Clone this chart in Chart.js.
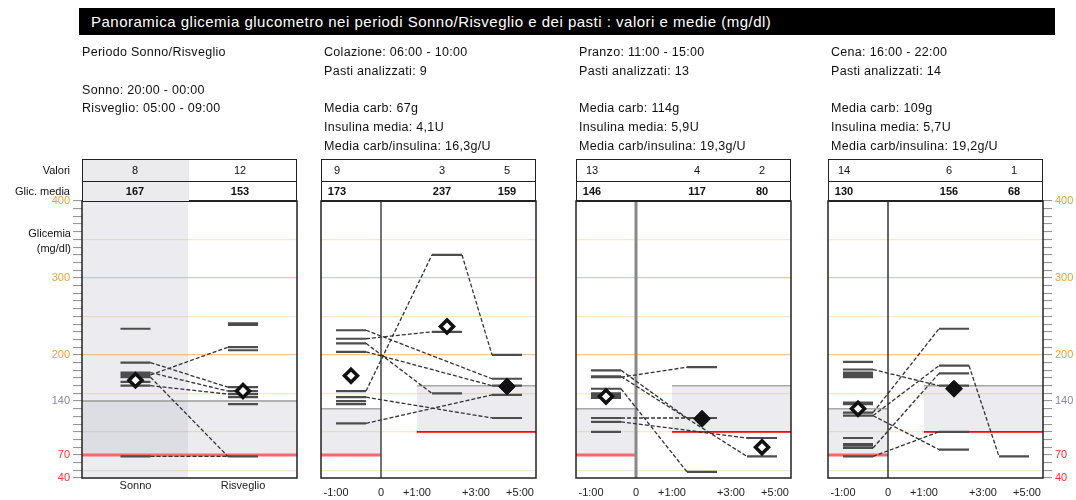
<!DOCTYPE html>
<html>
<head>
<meta charset="utf-8">
<script src="https://cdn.jsdelivr.net/npm/chart.js@4.4.0/dist/chart.umd.min.js"></script>
<style>
  body { margin: 0; background: #fff; font-family: "Liberation Sans", Arial, sans-serif; color: #111; }
  #wrap { position: relative; width: 1076px; height: 500px; overflow: hidden; }
  #wrap canvas { position: absolute; left: 0; top: 0; }
  .t { position: absolute; white-space: nowrap; font-size: 12.5px; line-height: 14px; letter-spacing: 0.3px; }
  .r { text-align: right; }
  .c { text-align: center; transform: translateX(-50%); }
  #title { position: absolute; left: 79px; top: 8px; width: 976px; height: 27px; background: #000;
           color: #fff; font-size: 15px; line-height: 27px; padding-left: 12px; box-sizing: border-box; letter-spacing: 0.5px; }
  .tbl { position: absolute; top: 159px; height: 42px; width: 215px; box-sizing: border-box;
         border: 1.5px solid #222; border-bottom: none; }
  .tbl .mid { position: absolute; left: 0; right: 0; top: 21px; border-top: 1.5px solid #222; }
  .tbl .shade { position: absolute; left: 0; top: 0; bottom: 0; width: 106px; background: #ebebee; }
</style>
</head>
<body>
<div id="wrap">
  <div id="title">Panoramica glicemia glucometro nei periodi Sonno/Risveglio e dei pasti : valori e medie (mg/dl)</div>
  <canvas id="c0" width="1076" height="500"></canvas>
  <canvas id="c1" width="1076" height="500"></canvas>
  <canvas id="c2" width="1076" height="500"></canvas>
  <canvas id="c3" width="1076" height="500"></canvas>
</div>
<script>
// --- valori ---
const sleepSlots = ['Sonno', 'Risveglio'];
const sleepCounts = [8, 12];
const sleepMeans = [167, 153];
const sonnoValues = [234, 190, 177, 174, 171, 165, 160, 68];
const risveglioValues = [241, 239, 210, 206, 158, 153, 149, 145, 136, 68, 68, 68];
// [colonna da, valore, colonna a, valore]
const sleepLinks = [[0, 190, 1, 158], [0, 177, 1, 153], [0, 160, 1, 149], [0, 174, 1, 210], [0, 171, 1, 68], [0, 68, 1, 68]];
const sleepTarget = [70, 140];

const mealNames = ['Colazione', 'Pranzo', 'Cena'];
const mealTimes = ['06:00 - 10:00', '11:00 - 15:00', '16:00 - 22:00'];
const mealAnalyzed = [9, 13, 14];
const mealCarb = ['67g', '114g', '109g'];
const mealInsulin = ['4,1U', '5,9U', '5,7U'];
const mealRatio = ['16,3g/U', '19,3g/U', '19,2g/U'];
const mealCounts = [[9, 3, 5], [13, 4, 2], [14, 6, 1]];
const mealMeans = [[173, 237, 159], [146, 117, 80], [130, 156, 68]];
const mealFilled = [[false, false, true], [false, true, false], [false, true, false]];

const colazioneValues = [
  [232, 221, 215, 204, 153, 145, 140, 136, 111],
  [330, 230, 150],
  [200, 169, 160, 148, 118]
];
const colazioneLinks = [[0, 153, 1, 330], [1, 330, 2, 200], [0, 232, 2, 169], [0, 221, 1, 230],
  [0, 215, 1, 150], [0, 204, 2, 160], [0, 145, 2, 118], [0, 111, 2, 148]];

const pranzoValues = [
  [180, 172, 171, 156, 156, 150, 148, 146, 145, 144, 118, 113, 100],
  [184, 118, 118, 48],
  [92, 68]
];
const pranzoLinks = [[0, 180, 1, 118], [0, 172, 2, 68], [0, 171, 1, 184], [0, 156, 1, 48],
  [0, 118, 1, 118], [0, 113, 2, 92]];

const cenaValues = [
  [191, 181, 177, 174, 171, 138, 136, 125, 121, 92, 84, 82, 79, 68],
  [234, 186, 176, 160, 100, 77],
  [68]
];
const cenaLinks = [[0, 125, 1, 234], [0, 121, 1, 186], [0, 121, 1, 77], [0, 79, 1, 176],
  [0, 68, 1, 100], [0, 181, 1, 160], [1, 186, 2, 68]];

const preTarget = [70, 130];
const postTarget = [100, 160];
const xTickLabels = ['-1:00', '0', '+1:00', '+3:00', '+5:00'];
const yLabelValues = [40, 70, 140, 200, 300, 400];

// --- layout (pixel del pannello, asse x 0..215) ---
const panelLeft = [82, 321, 576, 828];
const PW = 215;
const sleepX = [53.5, 161];
const mealX = [30, 126, 186];
const HALF = 15;
const xTickPos = [15, 60, 96, 155, 199];
const zeroX = 60, postStart = 96, sleepSplit = 106;
const zeroStyle = [['#444', 1.5], ['#888', 3], ['#333', 1.5]];

const wrap = document.getElementById('wrap');
function addText(txt, x, y, cls, extra) {
  const d = document.createElement('div');
  d.className = 't ' + (cls || '');
  d.textContent = txt;
  d.style.top = (y - 7) + 'px';
  if (cls && cls.indexOf('r') >= 0) { d.style.right = (1076 - x) + 'px'; } else { d.style.left = x + 'px'; }
  if (extra) Object.assign(d.style, extra);
  wrap.appendChild(d);
}

// testi in alto
addText('Periodo Sonno/Risveglio', 82, 52);
addText('Sonno: 20:00 - 00:00', 82, 90);
addText('Risveglio: 05:00 - 09:00', 82, 108);
mealNames.forEach((n, i) => {
  const x = panelLeft[i + 1] + 3;
  addText(n + ': ' + mealTimes[i], x, 52);
  addText('Pasti analizzati: ' + mealAnalyzed[i], x, 71);
  addText('Media carb: ' + mealCarb[i], x, 108);
  addText('Insulina media: ' + mealInsulin[i], x, 127);
  addText('Media carb/insulina: ' + mealRatio[i], x, 146);
});

// tabelle
function addTable(left, shade) {
  const d = document.createElement('div');
  d.className = 'tbl';
  d.style.left = left + 'px';
  d.innerHTML = (shade ? '<div class="shade"></div>' : '') + '<div class="mid"></div>';
  wrap.appendChild(d);
}
const small = { fontSize: '11px', letterSpacing: '0px' };
addTable(82, true);
addText('Valori', 70, 170, 'r', small);
addText('Glic. media', 70, 191, 'r', small);
addText('Glicemia', 71, 233, 'r', small);
addText('(mg/dl)', 71, 248, 'r', small);
const sleepTextX = [53, 158];
sleepCounts.forEach((c, i) => {
  addText(String(c), 82 + sleepTextX[i], 170, 'c', small);
  addText(String(sleepMeans[i]), 82 + sleepTextX[i], 191, 'c', Object.assign({ fontWeight: 'bold' }, small));
});
const mealTextX = [16, 121, 186];
mealCounts.forEach((cs, m) => {
  addTable(panelLeft[m + 1], false);
  cs.forEach((c, i) => {
    addText(String(c), panelLeft[m + 1] + mealTextX[i], 170, 'c', small);
    addText(String(mealMeans[m][i]), panelLeft[m + 1] + mealTextX[i], 191, 'c', Object.assign({ fontWeight: 'bold' }, small));
  });
});

// --- plugin per fasce, linee di riferimento e bordo ---
const bandPlugin = {
  id: 'bands',
  beforeDatasetsDraw(chart, args, opts) {
    const { ctx, chartArea: a, scales: { x, y } } = chart;
    ctx.save();
    ctx.beginPath(); ctx.rect(a.left, a.top, a.width, a.height); ctx.clip();
    (opts.fills || []).forEach(f => {
      const x0 = x.getPixelForValue(f[0]), x1 = x.getPixelForValue(f[1]);
      const y0 = y.getPixelForValue(f[2]), y1 = y.getPixelForValue(f[3]);
      ctx.fillStyle = f[4];
      ctx.fillRect(x0, y1, x1 - x0, y0 - y1);
    });
    (opts.hlines || []).forEach(l => {
      const yy = y.getPixelForValue(l[2]);
      ctx.strokeStyle = l[3]; ctx.lineWidth = l[4];
      ctx.beginPath(); ctx.moveTo(x.getPixelForValue(l[0]), yy); ctx.lineTo(x.getPixelForValue(l[1]), yy); ctx.stroke();
    });
    (opts.vlines || []).forEach(l => {
      const xx = x.getPixelForValue(l[0]);
      ctx.strokeStyle = l[1]; ctx.lineWidth = l[2];
      ctx.beginPath(); ctx.moveTo(xx, a.top); ctx.lineTo(xx, a.bottom); ctx.stroke();
    });
    ctx.restore();
  },
  afterDraw(chart) {
    const { ctx, chartArea: a } = chart;
    ctx.save();
    ctx.strokeStyle = '#222';
    ctx.lineWidth = 1.5;
    ctx.strokeRect(a.left, a.top, a.width, a.height);
    ctx.lineWidth = 2;
    ctx.beginPath(); ctx.moveTo(a.left, a.top); ctx.lineTo(a.right, a.top); ctx.stroke();
    ctx.restore();
  }
};

function segData(centers, groups) {
  const out = [];
  groups.forEach((vals, s) => vals.forEach(v => {
    out.push({ x: centers[s] - HALF, y: v }, { x: centers[s] + HALF, y: v }, { x: centers[s], y: null });
  }));
  return out;
}
function linkData(centers, links) {
  const out = [];
  links.forEach(l => {
    out.push({ x: centers[l[0]] + HALF, y: l[1] }, { x: centers[l[2]] - HALF, y: l[3] }, { x: centers[l[2]], y: null });
  });
  return out;
}

function gridColor(v) {
  if (v === 200 || v === 300) return '#f4c88e';
  if (v % 50 === 0 && v !== 400) return '#fbe6cd';
  return 'rgba(0,0,0,0)';
}
function labelColor(v) {
  if (v >= 200) return '#e8a23c';
  if (v === 140) return '#8a8aa0';
  return '#ff2a2a';
}

function makePanel(id, p) {
  const ctx = document.getElementById(id).getContext('2d');
  const showAxis = p.axis !== null;
  const means = p.means.map((m, i) => ({ x: p.centers[i], y: p.counts[i] > 1 ? m : null }));
  return new Chart(ctx, {
    type: 'line',
    data: {
      datasets: [
        {
          data: means, showLine: false, pointStyle: 'rectRot',
          pointRadius: p.filled.map(f => f ? 8.5 : 6.5),
          pointBackgroundColor: p.filled.map(f => f ? '#111' : '#fff'),
          pointBorderColor: '#111',
          pointBorderWidth: p.filled.map(f => f ? 1 : 3.5)
        },
        { data: linkData(p.centers, p.links), borderColor: '#333', borderWidth: 1.3, borderDash: [4, 2], pointRadius: 0, spanGaps: false },
        { data: segData(p.centers, p.values), borderColor: '#4d4d4d', borderWidth: 2.2, pointRadius: 0, spanGaps: false }
      ]
    },
    options: {
      responsive: false,
      animation: false,
      events: [],
      layout: { padding: { left: p.padL, right: p.padR, top: 201, bottom: 0 } },
      plugins: {
        legend: { display: false },
        tooltip: { enabled: false },
        bands: { fills: p.fills, hlines: p.hlines, vlines: p.vlines }
      },
      scales: {
        x: {
          type: 'linear', min: 0, max: PW,
          afterBuildTicks: s => { s.ticks = p.xTicks.map(v => ({ value: v })); },
          afterFit: s => { s.height = 22; },
          grid: { display: false, drawTicks: false },
          border: { display: false },
          ticks: {
            autoSkip: false, maxRotation: 0, padding: p.xPad, color: '#222',
            font: { family: '"Liberation Sans", Arial, sans-serif', size: 11 },
            callback: (v, i) => p.xLabels[i]
          }
        },
        y: {
          type: 'linear', position: p.axis || 'left', min: 40, max: 400,
          afterFit: s => { s.width = p.yWidth; },
          border: { display: false },
          grid: {
            color: c => gridColor(c.tick.value), lineWidth: 1.2,
            drawTicks: showAxis, tickLength: 9, tickColor: '#8c8c8c', tickWidth: 1
          },
          ticks: {
            display: showAxis, stepSize: 10, autoSkip: false, padding: 3,
            font: { family: '"Liberation Sans", Arial, sans-serif', size: 11 },
            color: c => labelColor(c.tick.value),
            callback: v => yLabelValues.includes(v) ? String(v) : ''
          }
        }
      }
    },
    plugins: [bandPlugin]
  });
}

const shadeCol = 'rgba(150,150,170,0.18)';

// pannello sonno / risveglio
makePanel('c0', {
  axis: 'left', yWidth: 82, padL: 0, padR: 1076 - 297,
  centers: sleepX, values: [sonnoValues, risveglioValues], links: sleepLinks,
  means: sleepMeans, counts: sleepCounts, filled: [false, false],
  xTicks: sleepX, xLabels: sleepSlots, xPad: 1,
  fills: [[0, sleepSplit, 40, 400, shadeCol], [0, PW, sleepTarget[0], sleepTarget[1], shadeCol]],
  hlines: [[0, PW, sleepTarget[1], '#9a9a9a', 1.5], [0, PW, sleepTarget[0], '#f46a6a', 3]],
  vlines: []
});

const mealValues = [colazioneValues, pranzoValues, cenaValues];
const mealLinks = [colazioneLinks, pranzoLinks, cenaLinks];
mealNames.forEach((n, m) => {
  const last = m === 2;
  makePanel('c' + (m + 1), {
    axis: last ? 'right' : null, yWidth: last ? 1076 - 1043 : 0,
    padL: panelLeft[m + 1], padR: last ? 0 : 1076 - panelLeft[m + 1] - PW,
    centers: mealX, values: mealValues[m], links: mealLinks[m],
    means: mealMeans[m], counts: mealCounts[m], filled: mealFilled[m],
    xTicks: xTickPos, xLabels: xTickLabels, xPad: 8,
    fills: [[0, zeroX, preTarget[0], preTarget[1], shadeCol], [postStart, PW, postTarget[0], postTarget[1], shadeCol]],
    hlines: [[0, zeroX, preTarget[1], '#a8a8a8', 1.5], [0, zeroX, preTarget[0], '#f46a6a', 3],
             [postStart, PW, postTarget[1], '#a8a8a8', 1.5], [postStart, PW, postTarget[0], '#ff0000', 1.6]],
    vlines: [[zeroX, zeroStyle[m][0], zeroStyle[m][1]]]
  });
});
</script>
</body>
</html>
